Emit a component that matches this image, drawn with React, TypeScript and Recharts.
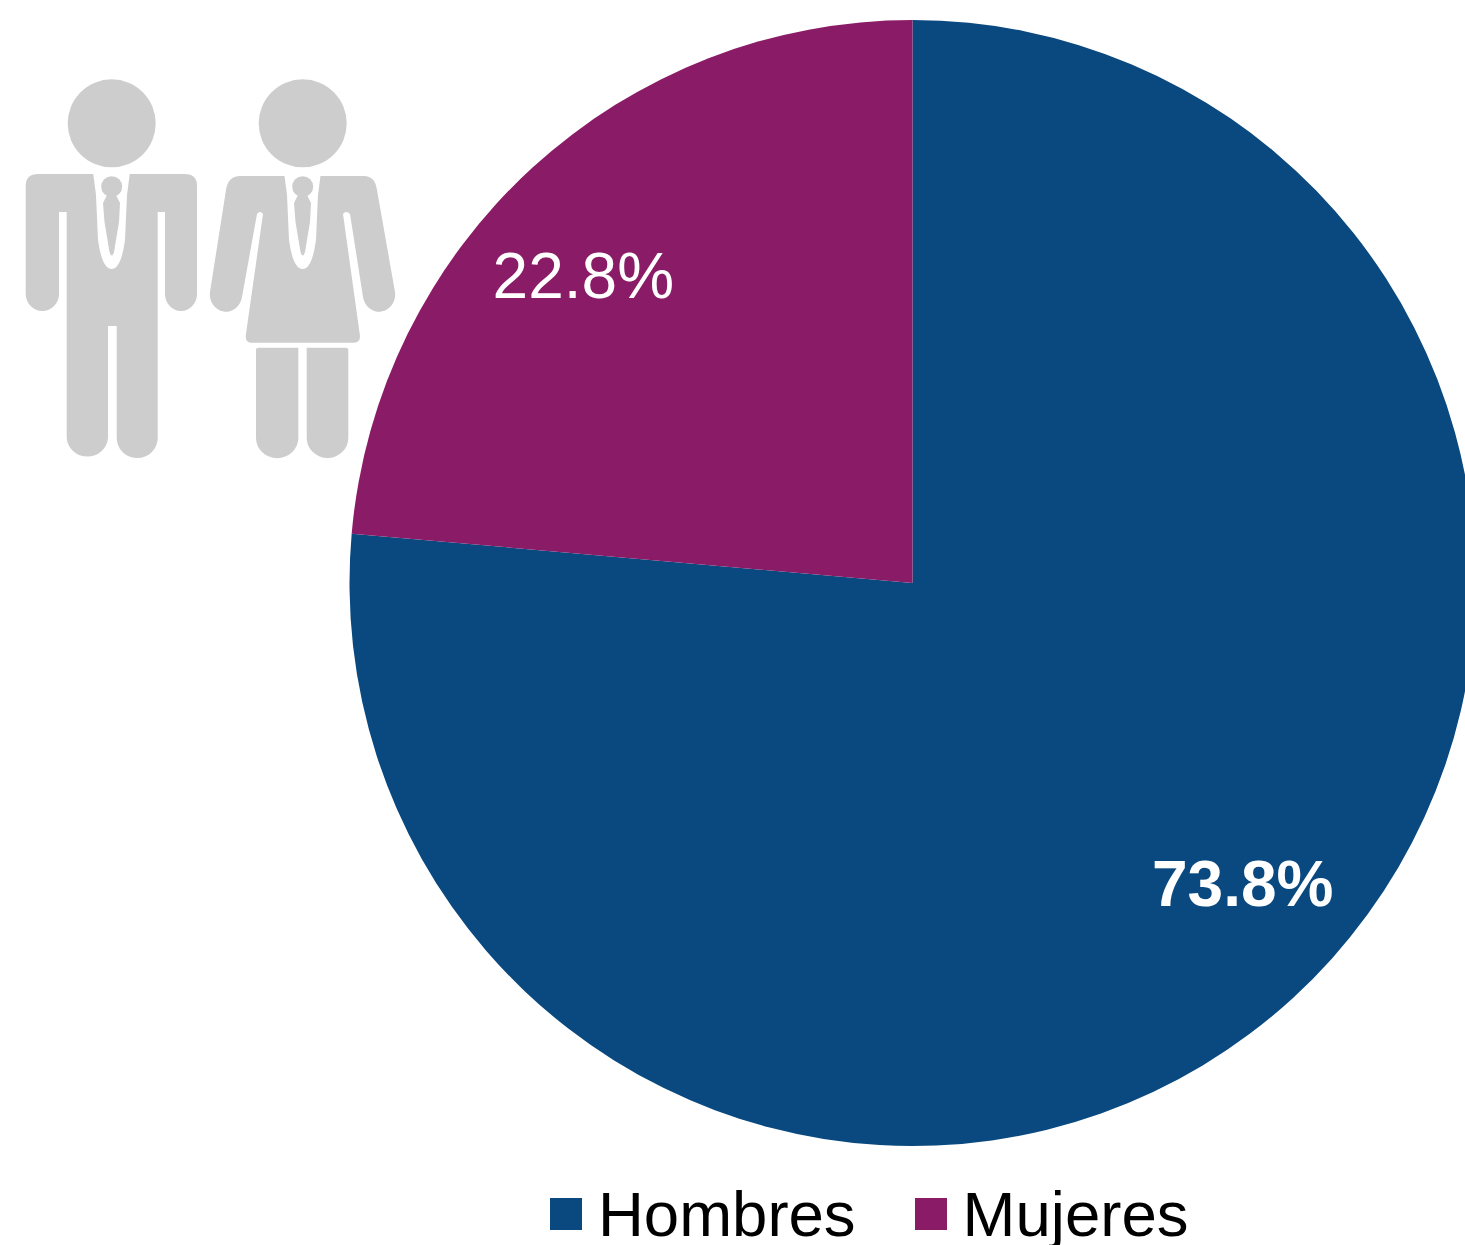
import { PieChart, Pie, Cell, Legend } from "recharts";

const categories = ["Hombres", "Mujeres"];
const values = [73.8, 22.8];
const colors = ["#09497F", "#8A1B66"];
const labelWeights = ["bold", "normal"];
const labelNudge = [
  [26, -31],
  [-25, 25],
];

const data = categories.map((name, i) => ({ name, value: values[i] }));

const GRAY = "#CDCDCD";
const RADIAN = Math.PI / 180;

const Collar = ({ dx }: { dx: number }) => (
  <g transform={`translate(${dx} 0)`}>
    <path
      d="M93 172 H130 L127 195 L125 240 Q121 269 111.7 269 Q102 269 98 240 L96 195 Z"
      fill="#fff"
    />
    <circle cx={111.7} cy={186.7} r={10.5} fill={GRAY} />
    <path
      d="M103 203 L107 195 H116 L120 203 L119 222 L114 252 Q111.7 259 109.5 252 L104.5 222 Z"
      fill={GRAY}
    />
  </g>
);

const Man = () => (
  <g>
    <circle cx={111.7} cy={123.3} r={44} fill={GRAY} />
    <path
      fill={GRAY}
      d="M38 174 H185 Q197 174 197 186 V294 A16 17 0 0 1 165 294 V212 H157.7 V438 A20.5 20 0 0 1 116.7 438 V326 H108 V438 A20.7 20 0 0 1 66.7 438 V212 H59 V294 A16.6 17 0 0 1 25.7 294 V186 Q25.7 174 38 174 Z"
    />
    <Collar dx={0} />
  </g>
);

const Woman = () => (
  <g>
    <circle cx={302.7} cy={123.3} r={44} fill={GRAY} />
    <path
      fill={GRAY}
      d="M240 176 H364 Q375 176 377 190 L395 292 A16 17 0 0 1 363 297 L350 214 Q346 210 343 214 L360 336 Q360 342.7 354 342.7 H251 Q245.7 342.7 245.7 336 L263 214 Q260 210 257 214 L242 297 A16 17 0 0 1 210 292 L226 190 Q228 176 240 176 Z"
    />
    <path
      fill={GRAY}
      d="M256 350 Q256 347.7 259 347.7 H298.3 V438 A21 20 0 0 1 256 438 Z"
    />
    <path
      fill={GRAY}
      d="M306.7 347.7 H345.3 Q348.3 347.7 348.3 350 V438 A20.8 20 0 0 1 306.7 438 Z"
    />
    <Collar dx={191} />
  </g>
);

const renderLabel = ({ cx, cy, midAngle, outerRadius, index, value }: any) => {
  const r = outerRadius * 0.8;
  const x = cx + r * Math.cos(-midAngle * RADIAN) + labelNudge[index][0];
  const y = cy + r * Math.sin(-midAngle * RADIAN) + labelNudge[index][1];
  return (
    <text
      x={x}
      y={y}
      fill="#fff"
      textAnchor="middle"
      dominantBaseline="central"
      fontSize={64}
      fontWeight={labelWeights[index]}
      fontFamily="Liberation Sans"
    >
      {`${value}%`}
    </text>
  );
};

const renderLegend = () => (
  <div style={{ display: "flex", alignItems: "center", fontFamily: "Liberation Sans", fontSize: 63.5, color: "#000" }}>
    {categories.map((name, i) => (
      <div key={name} style={{ display: "flex", alignItems: "center", marginRight: i === 0 ? 59 : 0 }}>
        <span style={{ width: 32, height: 32, background: colors[i], marginRight: 16 }} />
        <span style={{ lineHeight: "60px" }}>{name}</span>
      </div>
    ))}
  </div>
);

export default function App() {
  return (
    <div style={{ position: "absolute", left: 0, top: 0, width: 1465, height: 1245, overflow: "hidden", background: "#fff" }}>
      <PieChart width={1465} height={1245} margin={{ top: 0, right: 0, bottom: 0, left: 0 }}>
        <Man />
        <Woman />
        <Pie
          data={data}
          dataKey="value"
          nameKey="name"
          cx={912.5}
          cy={583}
          outerRadius={563}
          startAngle={90}
          endAngle={-270}
          stroke="none"
          label={renderLabel}
          labelLine={false}
          isAnimationActive={false}
        >
          {data.map((d, i) => (
            <Cell key={d.name} fill={colors[i]} />
          ))}
        </Pie>
        <Legend content={renderLegend} wrapperStyle={{ left: 550, top: 1184, width: 700, bottom: "auto" }} />
      </PieChart>
    </div>
  );
}
